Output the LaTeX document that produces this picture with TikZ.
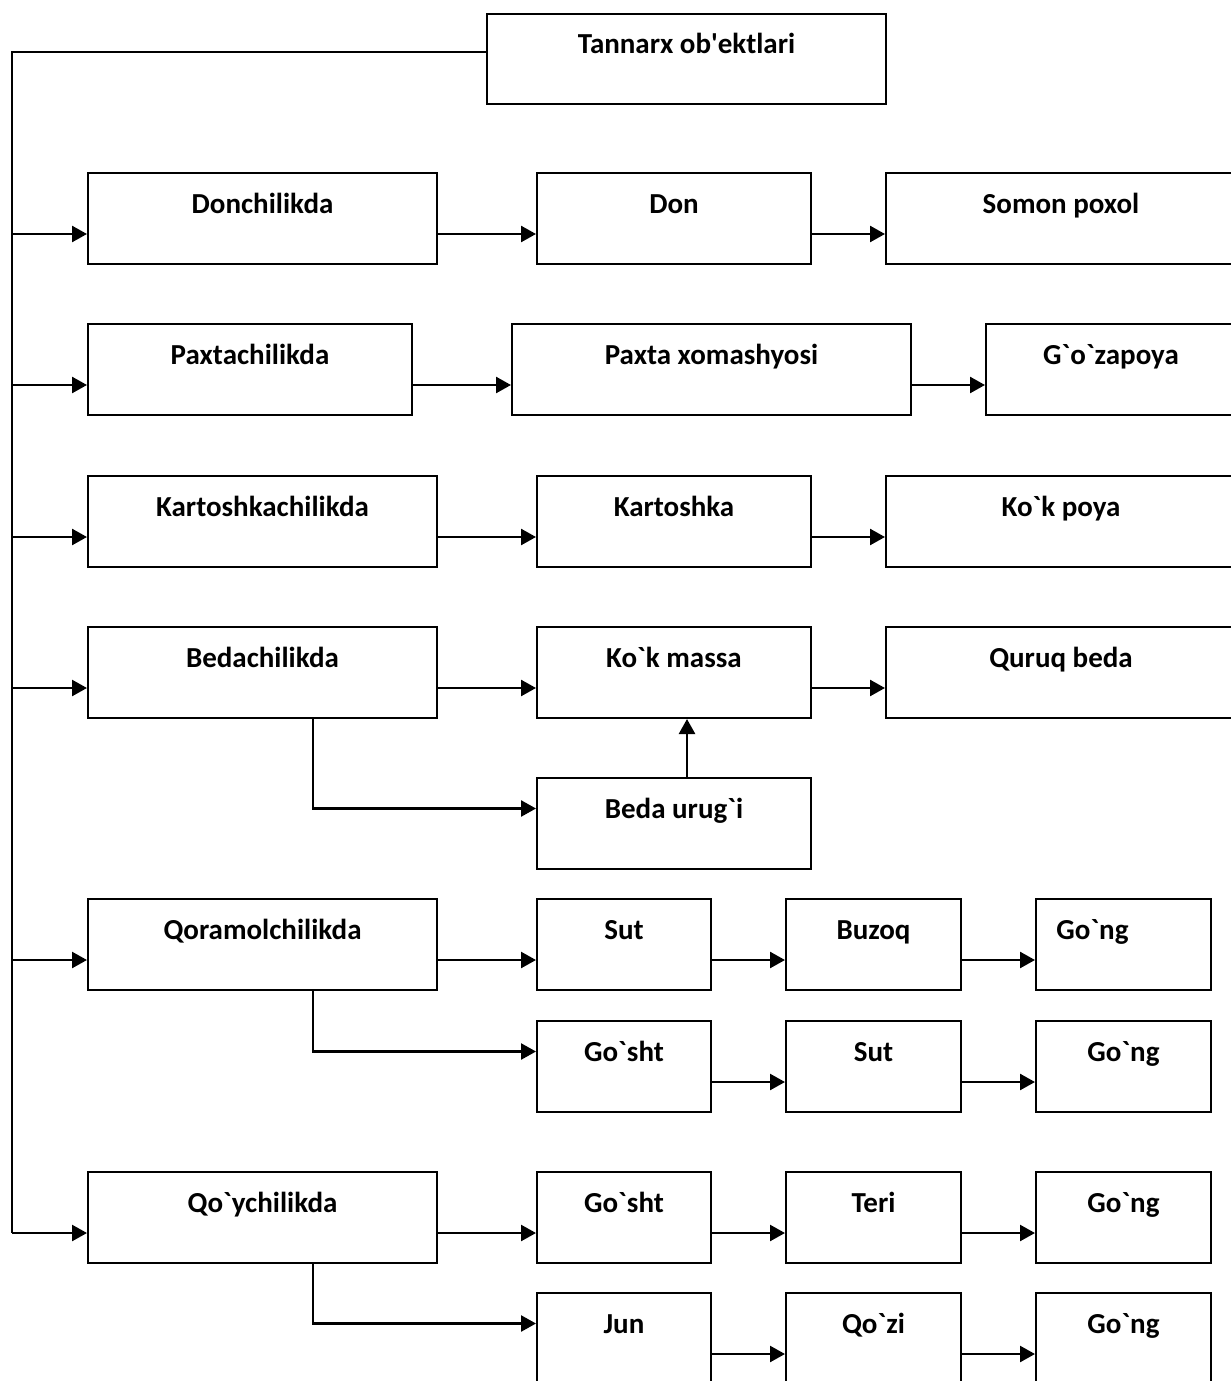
\documentclass[tikz,border=0pt]{standalone}
\usepackage{fontspec}
\setmainfont{Carlito}[Ligatures=TeXOff]
\usetikzlibrary{arrows.meta}

\tikzset{
    box/.style={draw, line width=2pt, anchor=north west, inner sep=0pt,
        minimum height=91pt, text height=40pt, text depth=51pt,
        font=\bfseries\fontsize{29}{34}\selectfont},
    arr/.style={line width=2.5pt, -{Triangle[length=15pt,width=16pt]}},
    larr/.style={line width=2.5pt, {Triangle[length=15pt,width=16pt]}-},
    link/.style={line width=2pt}
}

\begin{document}
\begin{tikzpicture}[x=1pt, y=-1pt]
    % Frame of the page, the right and bottom boxes run off it
    \useasboundingbox (0,0) rectangle (1231,1381);
    \clip (0,0) rectangle (1231,1381);

    % Top box
    \node[box, minimum width=399pt, minimum height=90pt, text depth=50pt] (tn) at (486,13) {Tannarx ob'ektlari};

    % Donchilik row
    \node[box, minimum width=349pt] (dk) at (87,172) {Donchilikda};
    \node[box, minimum width=274pt] (dn) at (536,172) {Don};
    \node[box, minimum width=350pt] (sp) at (885,172) {Somon poxol};

    % Paxtachilik row
    \node[box, minimum width=324pt] (pk) at (87,323) {Paxtachilikda};
    \node[box, minimum width=399pt] (px) at (511,323) {Paxta xomashyosi};
    \node[box, minimum width=250pt] (gz) at (985,323) {G`o`zapoya};

    % Kartoshkachilik row
    \node[box, minimum width=349pt] (kk) at (87,475) {Kartoshkachilikda};
    \node[box, minimum width=274pt] (kt) at (536,475) {Kartoshka};
    \node[box, minimum width=350pt] (kp) at (885,475) {Ko`k poya};

    % Bedachilik row
    \node[box, minimum width=349pt] (bk) at (87,626) {Bedachilikda};
    \node[box, minimum width=274pt] (km) at (536,626) {Ko`k massa};
    \node[box, minimum width=350pt] (qb) at (885,626) {Quruq beda};
    \node[box, minimum width=274pt] (bu) at (536,777) {Beda urug`i};

    % Qoramolchilik rows
    \node[box, minimum width=349pt] (qk) at (87,898) {Qoramolchilikda};
    \node[box, minimum width=174pt] (st1) at (536,898) {Sut};
    \node[box, minimum width=175pt] (bz) at (785,898) {Buzoq};
    \node[box, minimum width=175pt] (gn1) at (1035,898) {Go`ng\hspace*{62pt}};
    \node[box, minimum width=174pt] (gs1) at (536,1020) {Go`sht};
    \node[box, minimum width=175pt] (st2) at (785,1020) {Sut};
    \node[box, minimum width=175pt] (gn2) at (1035,1020) {Go`ng};

    % Qo`ychilik rows
    \node[box, minimum width=349pt] (qy) at (87,1171) {Qo`ychilikda};
    \node[box, minimum width=174pt] (gs2) at (536,1171) {Go`sht};
    \node[box, minimum width=175pt] (tr) at (785,1171) {Teri};
    \node[box, minimum width=175pt] (gn3) at (1035,1171) {Go`ng};
    \node[box, minimum width=174pt] (jn) at (536,1292) {Jun};
    \node[box, minimum width=175pt] (qz) at (785,1292) {Qo`zi};
    \node[box, minimum width=175pt] (gn4) at (1035,1292) {Go`ng};

    % Main line down the left side
    \coordinate (trunk) at ([xshift=-75pt,yshift=-15.5pt]qy.west);
    \draw[link] ([yshift=7pt]tn.west) -| (trunk);
    \draw[arr] (trunk) -- ([yshift=-15.5pt]qy.west);
    \foreach \b in {dk,pk,kk,bk,qk}
        \draw[larr] ([yshift=-15.5pt]\b.west) -- ++(-75,0);

    % Arrows along the rows
    \foreach \a/\b in {dk/dn, dn/sp, pk/px, px/gz, kk/kt, kt/kp, bk/km, km/qb,
        qk/st1, st1/bz, bz/gn1, gs1/st2, st2/gn2,
        qy/gs2, gs2/tr, tr/gn3, jn/qz, qz/gn4}
        \draw[arr] ([yshift=-15.5pt]\a.east) -- ([yshift=-15.5pt]\b.west);

    % Branches to the second boxes
    \draw[link, arr] ([xshift=50.5pt]bk.south) |- ([yshift=15pt]bu.west);
    \draw[link, arr] ([xshift=50.5pt]qk.south) |- ([yshift=15pt]gs1.west);
    \draw[link, arr] ([xshift=50.5pt]qy.south) |- ([yshift=15pt]jn.west);
    \draw[arr] ([xshift=13pt]bu.north) -- ([xshift=13pt]km.south);
\end{tikzpicture}
\end{document}
